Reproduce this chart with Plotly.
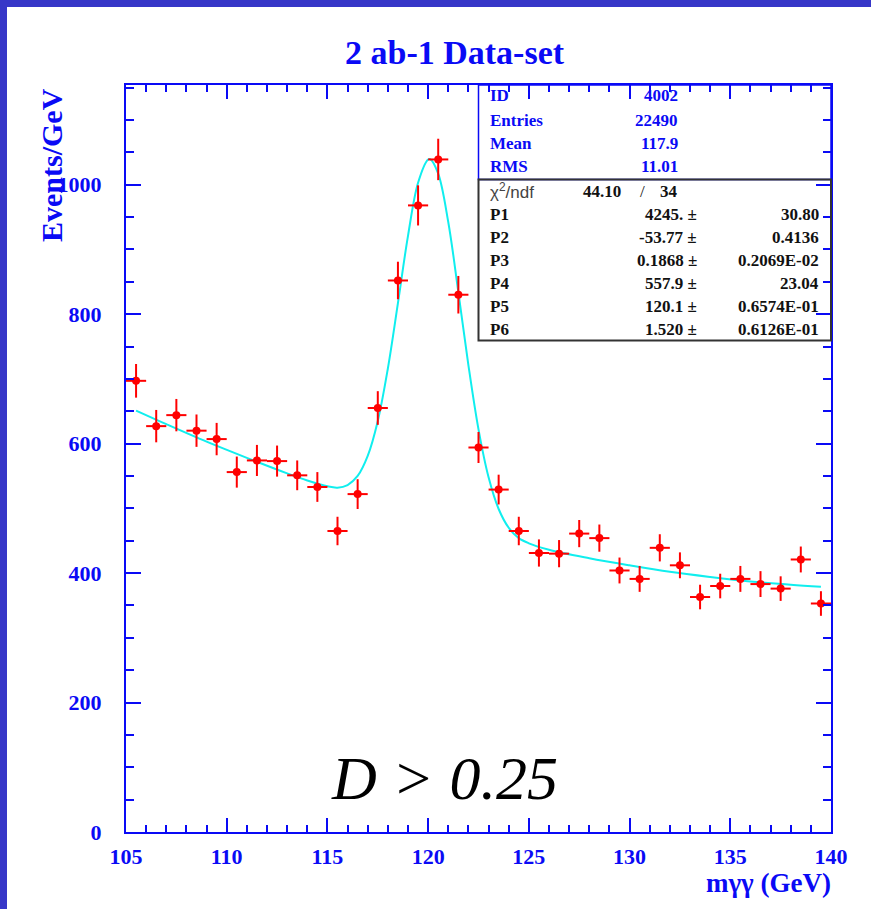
import plotly.graph_objects as go

# ---------------- data ----------------
bin_centers = [105.5, 106.5, 107.5, 108.5, 109.5, 110.5, 111.5, 112.5, 113.5, 114.5,
               115.5, 116.5, 117.5, 118.5, 119.5, 120.5, 121.5, 122.5, 123.5, 124.5,
               125.5, 126.5, 127.5, 128.5, 129.5, 130.5, 131.5, 132.5, 133.5, 134.5,
               135.5, 136.5, 137.5, 138.5, 139.5]
events = [697, 627, 644, 620, 607, 556, 574, 573, 551, 533,
          465, 522, 655, 852, 968, 1039, 830, 594, 529, 465,
          431, 430, 461, 454, 404, 391, 439, 412, 363, 380,
          391, 383, 376, 421, 353]
event_err = [26, 25, 25, 25, 25, 24, 24, 24, 23, 23,
             22, 23, 26, 29, 31, 32, 29, 24, 23, 22,
             21, 21, 21, 21, 20, 20, 21, 20, 19, 19,
             20, 20, 19, 20, 19]
bin_half_width = [0.5] * 35

fit_x = [105.5, 107, 109, 111, 113, 114, 115, 115.5, 116, 116.5, 117, 117.5, 118,
         118.5, 119, 119.5, 120, 120.1, 120.5, 121, 121.5, 122, 122.5, 123, 123.5,
         124, 124.5, 125, 126, 128, 130, 132, 134, 136, 138, 139.5]
fit_y = [651, 630, 603, 578, 554, 543, 534, 532, 536, 550, 581, 635, 716,
         817, 921, 1003, 1039, 1039.5, 1017, 942, 834, 721, 622, 548, 499,
         470, 454, 446, 436, 423, 412, 402, 394, 387, 382, 379]

x_ticks = [105, 110, 115, 120, 125, 130, 135, 140]
y_ticks = [0, 200, 400, 600, 800, 1000]

stats_labels = ["ID", "Entries", "Mean", "RMS"]
stats_values = ["4002", "22490", "117.9", "11.01"]
chi2_text = ["44.10", "/", "34"]
par_names = ["P1", "P2", "P3", "P4", "P5", "P6"]
par_values = ["4245.", "-53.77", "0.1868", "557.9", "120.1", "1.520"]
par_errors = ["30.80", "0.4136", "0.2069E-02", "23.04", "0.6574E-01", "0.6126E-01"]

# ---------------- layout helpers ----------------
W, H = 871, 909
L, R, T, B = 126, 40, 85, 77
PW, PH = W - L - R, H - T - B


def px(x):
    return (x - L) / PW


def py(y):
    return (H - B - y) / PH


BLUE = "#0a0af5"
SERIF = "Liberation Serif, Times New Roman, serif"

fig = go.Figure()

fig.add_trace(go.Scatter(
    x=fit_x, y=fit_y, mode="lines", line=dict(color="#10eeee", width=2, shape="spline"),
    hoverinfo="skip", showlegend=False))

fig.add_trace(go.Scatter(
    x=bin_centers, y=events, mode="markers",
    marker=dict(color="#ff0000", size=8),
    error_y=dict(type="data", array=event_err, color="#ff0000", thickness=2, width=0),
    error_x=dict(type="data", array=bin_half_width, color="#ff0000", thickness=2, width=0),
    showlegend=False))

axis_common = dict(
    showline=True, linecolor=BLUE, linewidth=2, mirror="ticks",
    ticks="inside", tickcolor=BLUE, tickwidth=2,
    showgrid=False, zeroline=False,
    tickfont=dict(family=SERIF, size=22, color=BLUE, weight="bold"),
)

fig.update_xaxes(range=[105, 140], tickvals=x_ticks, ticklen=14,
                 minor=dict(dtick=1, tick0=105, ticklen=7, ticks="inside",
                            tickcolor=BLUE, tickwidth=1.5, showgrid=False),
                 ticklabelstandoff=4,
                 **axis_common)
fig.update_yaxes(range=[0, 1154], tickvals=y_ticks, ticklen=15,
                 minor=dict(dtick=50, tick0=0, ticklen=8, ticks="inside",
                            tickcolor=BLUE, tickwidth=1.5, showgrid=False),
                 ticklabelstandoff=18,
                 **axis_common)

shapes = []
FRAME = "#3737c8"
# blue frame of the slide (top and left)
shapes.append(dict(type="rect", xref="paper", yref="paper", x0=px(0), x1=px(W), y0=py(7), y1=py(0),
                   fillcolor=FRAME, line=dict(width=0), layer="above"))
shapes.append(dict(type="rect", xref="paper", yref="paper", x0=px(0), x1=px(7), y0=py(H), y1=py(0),
                   fillcolor=FRAME, line=dict(width=0), layer="above"))
# stats box
shapes.append(dict(type="rect", xref="paper", yref="paper", x0=px(478.5), x1=px(831), y0=py(179.5), y1=py(85),
                   line=dict(color=BLUE, width=1.5), layer="above"))
shapes.append(dict(type="rect", xref="paper", yref="paper", x0=px(478.5), x1=px(831), y0=py(340.5), y1=py(179.5),
                   line=dict(color="#333333", width=2), layer="above"))

ann = []


def text(x, y, s, size, color=BLUE, xanchor="left", bold=True, family=SERIF, italic=False, angle=0):
    font = dict(family=family, size=size, color=color)
    if bold:
        font["weight"] = "bold"
    if italic:
        font["style"] = "italic"
    ann.append(dict(xref="paper", yref="paper", x=px(x), y=py(y), text=s, showarrow=False,
                    xanchor=xanchor, yanchor="middle", font=font, textangle=angle, borderpad=0))


text(455, 53, "2 ab-1 Data-set", 34, xanchor="center")
text(51, 165, "Events/GeV", 30, xanchor="center", angle=-90)
text(832, 883, "mγγ (GeV)", 27, xanchor="right")
text(444, 778, "D > 0.25", 62, color="#000000", xanchor="center", bold=False, italic=True)

stat_rows = [95, 120.5, 143.5, 166.5]
for lab, val, yy in zip(stats_labels, stats_values, stat_rows):
    text(489, yy, lab, 17)
    text(679, yy, val, 17, xanchor="right")

text(489, 191, "χ<sup>2</sup>/ndf", 17, color="#444444", bold=False, family="Liberation Sans, Arial, sans-serif")
text(622, 191, chi2_text[0], 17, color="#111111", xanchor="right")
text(642, 191, chi2_text[1], 17, color="#111111", xanchor="center", bold=False)
text(679, 191, chi2_text[2], 17, color="#111111", xanchor="right")

par_rows = [214.5, 237.5, 260.5, 283.5, 306.5, 329.5]
for nm, v, e, yy in zip(par_names, par_values, par_errors, par_rows):
    text(489, yy, nm, 17, color="#111111")
    text(698, yy, v + " ±", 17, color="#111111", xanchor="right")
    text(820, yy, e, 17, color="#111111", xanchor="right")

fig.update_layout(
    width=W, height=H, autosize=False,
    margin=dict(l=L, r=R, t=T, b=B, pad=0),
    paper_bgcolor="white", plot_bgcolor="white",
    shapes=shapes, annotations=ann, showlegend=False,
)

fig.write_html("out.html")
